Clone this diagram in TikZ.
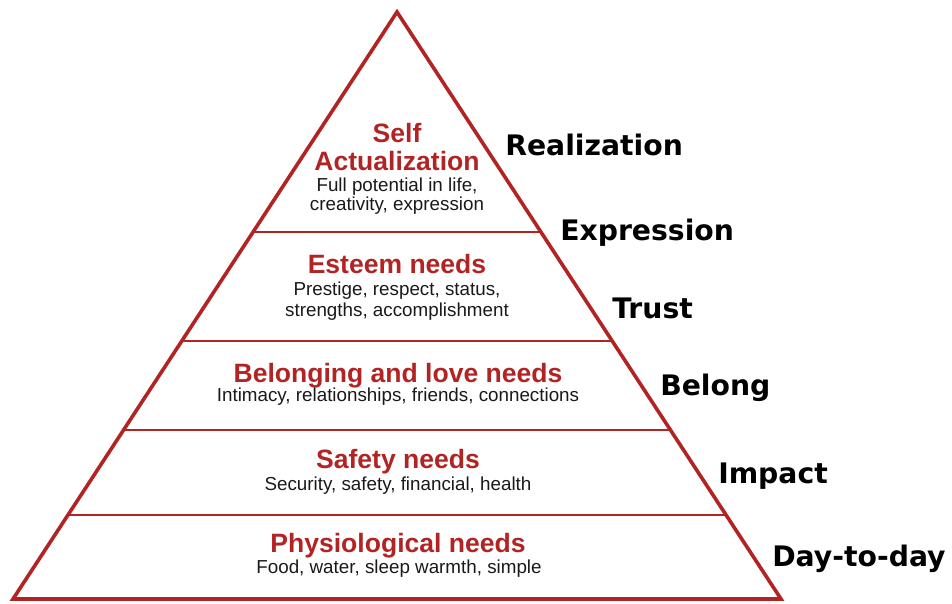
\documentclass[tikz,border=0pt]{standalone}
\usepackage{fontspec}
\setmainfont{Liberation Sans}
\newfontfamily\labfont{DejaVu Sans}
\usetikzlibrary{calc}
\definecolor{pyrred}{RGB}{178,36,36}
\definecolor{txtgray}{RGB}{25,25,25}
\tikzset{
  outline/.style={draw=pyrred, line width=2.7pt, line join=miter},
  divider/.style={draw=pyrred, line width=1.6pt},
  title/.style={anchor=base, inner sep=0pt, text=pyrred, font=\fontsize{19.9}{20}\selectfont\bfseries},
  sub/.style={anchor=base, inner sep=0pt, text=txtgray, font=\fontsize{14.1}{15}\selectfont},
  level/.style={anchor=base west, inner sep=0pt, text=black, font=\labfont\fontsize{21.2}{22}\selectfont\bfseries}
}
\begin{document}
\begin{tikzpicture}[x=0.75pt,y=-0.75pt]
\useasboundingbox (0,0) rectangle (952,603);
\coordinate (apex) at (397,12);
\coordinate (bl) at (13,599);
\coordinate (br) at (781,599);
\draw[outline] (apex) -- (br) -- (bl) -- cycle;
\foreach \t/\n in {0.3748/a,0.5605/b,0.7121/c,0.8569/d}{
  \draw[divider] ($(apex)!\t!(bl)$) coordinate (L\n) -- ($(apex)!\t!(br)$) coordinate (R\n);
}
% titles and descriptions
\node[title] (t1a) at (397,142) {Self};
\node[title] (t1b) at (397,170) {Actualization};
\node[sub] (s1a) at (397,191) {Full potential in life,};
\node[sub] (s1b) at (397,210) {creativity, expression};
\node[title] (t2) at (397,273) {Esteem needs};
\node[sub] (s2a) at (397,295) {Prestige, respect, status,};
\node[sub] (s2b) at (397,316) {strengths, accomplishment};
\node[title] (t3) at (398,382) {Belonging and love needs};
\node[sub] (s3) at (398,401) {Intimacy, relationships, friends, connections};
\node[title] (t4) at (398,468) {Safety needs};
\node[sub] (s4) at (398,490) {Security, safety, financial, health};
\node[title] (t5) at (398,552) {Physiological needs};
\node[sub] (s5) at (399,573) {Food, water, sleep warmth, simple};
% side labels
\node[level] (l1) at (505,155) {Realization};
\node[level] (l2) at (560,240) {Expression};
\node[level] (l3) at (612,318) {Trust};
\node[level] (l4) at (660,395) {Belong};
\node[level] (l5) at (718,483) {Impact};
\node[level] (l6) at (772,566) {Day-to-day};
\end{tikzpicture}
\end{document}
